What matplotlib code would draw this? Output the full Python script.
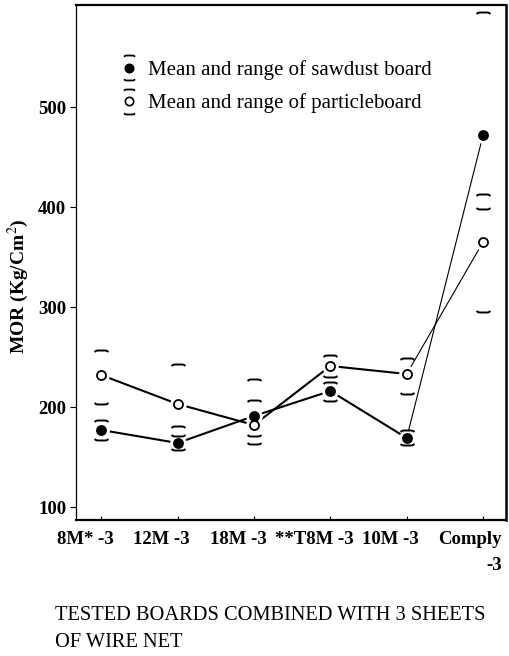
import numpy as np
import matplotlib
matplotlib.use("Agg")
import matplotlib.pyplot as plt
from matplotlib.path import Path
from matplotlib.lines import Line2D
from matplotlib.legend_handler import HandlerBase
import matplotlib.transforms as mtransforms

categories = ["8M* -3", "12M -3", "18M -3", "**T8M -3", "10M -3", "Comply\n-3"]
saw_mean = [177, 164, 191, 216, 169, 472]
saw_max = [187, 181, 207, 225, 177, 595]
saw_min = [167, 157, 171, 206, 162, 398]
part_mean = [232, 203, 182, 241, 233, 365]
part_max = [257, 243, 228, 252, 249, 413]
part_min = [203, 171, 163, 230, 213, 295]
yticks = [100, 200, 300, 400, 500]

plt.rcParams['font.family'] = ['Liberation Serif', 'DejaVu Serif']
plt.rcParams['mathtext.fontset'] = 'stix'

fig = plt.figure(figsize=(5.10, 6.56), dpi=100)
ax = fig.add_axes([76/510, 1-520/656, 430/510, 515/656])

x = np.arange(len(categories))

# bracket markers
t = np.linspace(-1, 1, 11)
top_arc = Path(np.column_stack([t, -0.22*t**6]))
bot_arc = Path(np.column_stack([t, 0.22*t**6]))

def draw_series(mean, vmin, vmax, filled):
    ax.plot(x[:5], mean[:5], color='black', lw=1.5, zorder=2)
    ax.plot(x[4:], mean[4:], color='black', lw=0.8, zorder=2)
    ax.plot(x, mean, ls='none', marker='o', ms=11, mfc='white', mec='white', zorder=3)
    ax.plot(x, mean, ls='none', marker='o', ms=6.5,
            mfc='black' if filled else 'white', mec='black', mew=1.3, zorder=4)
    ax.plot(x, vmax, ls='none', marker=top_arc, ms=10, mfc='none', mec='black', mew=1.4, zorder=4)
    ax.plot(x, vmin, ls='none', marker=bot_arc, ms=10, mfc='none', mec='black', mew=1.4, zorder=4)

draw_series(part_mean, part_min, part_max, False)
draw_series(saw_mean, saw_min, saw_max, True)

ax.set_xlim(-0.33, 5.3)
ax.set_ylim(87, 602)
ax.set_yticks(yticks)
ax.set_yticklabels([str(v) for v in yticks], fontsize=13.5, fontweight='bold')
ax.set_xticks(x)
ax.set_xticklabels([])
ax.tick_params(axis='x', direction='in', length=3)
ax.tick_params(axis='y', direction='out', length=4, pad=3)

# category labels, slightly left of the tick as in the original print
xtrans = ax.get_xaxis_transform()
for xi, lab in zip(x, categories):
    if '\n' in lab:
        tr = xtrans + mtransforms.ScaledTranslation(0.19, -0.11, fig.dpi_scale_trans)
        ax.text(xi, 0, lab, transform=tr, ha='right', va='top', multialignment='right',
                linespacing=1.7, fontsize=13.5, fontweight='bold')
    else:
        tr = xtrans + mtransforms.ScaledTranslation(-0.16, -0.11, fig.dpi_scale_trans)
        ax.text(xi, 0, lab, transform=tr, ha='center', va='top',
                fontsize=13.5, fontweight='bold')

for side, lw in [('left', 0.9), ('right', 1.8), ('top', 1.6), ('bottom', 1.6)]:
    ax.spines[side].set_linewidth(lw)

ax.set_ylabel('MOR (Kg/Cm$^2$)', fontsize=14, fontweight='bold')
ax.yaxis.set_label_coords((31-76)/430, (520-286)/515)

fig.text(55/510, 1-629/656, "TESTED BOARDS COMBINED WITH 3 SHEETS\nOF WIRE NET",
         fontsize=14.7, ha='left', va='center', linespacing=1.6)

class RangeHandler(HandlerBase):
    def __init__(self, filled):
        super().__init__()
        self.filled = filled
    def create_artists(self, legend, orig_handle, xdescent, ydescent, width, height, fontsize, trans):
        cx = width/2 - xdescent
        cy = height/2 - ydescent
        c = Line2D([cx], [cy], ls='none', marker='o', ms=6, mfc='black' if self.filled else 'white',
                   mec='black', mew=1.2, transform=trans)
        a1 = Line2D([cx], [cy + 9], ls='none', marker=top_arc, ms=8, mfc='none', mec='black', mew=1.3, transform=trans)
        a2 = Line2D([cx], [cy - 9], ls='none', marker=bot_arc, ms=8, mfc='none', mec='black', mew=1.3, transform=trans)
        return [c, a1, a2]

h1 = Line2D([], [])
h2 = Line2D([], [])
ax.legend([h1, h2], ["Mean and range of sawdust board", "Mean and range of particleboard"],
          handler_map={h1: RangeHandler(True), h2: RangeHandler(False)},
          loc='upper left', bbox_to_anchor=((120-76)/430, 1-(60-5)/515),
          frameon=False, fontsize=15, handlelength=0.9, handletextpad=0.45,
          labelspacing=0.65, borderaxespad=0, borderpad=0)

fig.savefig("out.png", dpi=100)
